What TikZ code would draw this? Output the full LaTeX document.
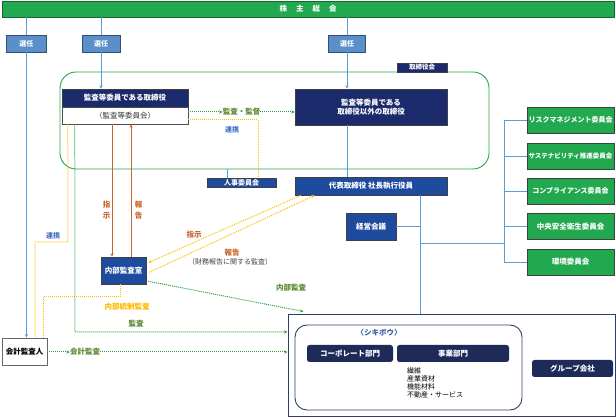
\documentclass[tikz,border=0pt]{standalone}
\usepackage{fontspec}
\setmainfont{Noto Sans CJK JP}
\usetikzlibrary{arrows.meta,calc}
\definecolor{kgreen}{HTML}{22A84E}
\definecolor{navy}{HTML}{1B2A6B}
\definecolor{mblue}{HTML}{1F4B9E}
\definecolor{lblue}{HTML}{5B8FC9}
\definecolor{lineblue}{HTML}{5B9BD5}
\definecolor{orng}{HTML}{C8652C}
\definecolor{yel}{HTML}{FFC000}
\definecolor{dgreen}{HTML}{22A33E}
\definecolor{olive}{HTML}{5E8B33}
\definecolor{txtblue}{HTML}{4472C4}
\definecolor{bnavy}{HTML}{1E2B58}
\definecolor{frame}{HTML}{2E3D6B}
\tikzset{
  bx/.style={inner sep=0pt, align=center, text=white, font=\bfseries\fontsize{7.5}{9}\selectfont},
  navybox/.style={bx, fill=navy, draw=black!75, line width=0.6pt},
  bluebox/.style={bx, fill=mblue, draw=black!75, line width=0.6pt},
  greenbox/.style={bx, fill=kgreen, draw=black!75, line width=0.8pt, font=\bfseries\fontsize{7}{8}\selectfont},
  seninbox/.style={bx, fill=lblue, draw=lblue!55!black, line width=0.6pt, font=\bfseries\fontsize{7}{8}\selectfont},
  botbox/.style={bx, fill=bnavy, rounded corners=2.5pt},
  bline/.style={draw=lineblue, line width=0.8pt},
  dotl/.style={line width=1pt, dash pattern=on 1pt off 1pt},
  gdot/.style={dotl, draw=dgreen},
  ydot/.style={dotl, draw=yel},
  oline/.style={draw=orng, line width=1pt},
  lab/.style={inner sep=0pt, font=\bfseries\fontsize{7.5}{9}\selectfont},
  >={Stealth[length=3.5pt,width=3.2pt]}
}
\begin{document}
\begin{tikzpicture}[x=1pt,y=-1pt]
\useasboundingbox (0,0) rectangle (616,419);

% top bar
\node[bx, fill=kgreen, draw=kgreen!60!black, line width=0.6pt, minimum width=612pt, minimum height=16pt] (gm) at (308,9) {株\hspace{9pt}主\hspace{9pt}総\hspace{9pt}会};

% senin boxes
\node[seninbox, minimum width=40pt, minimum height=17pt] (s1) at (26.5,43.5) {選任};
\node[seninbox, minimum width=38pt, minimum height=17pt] (s2) at (101,43.5) {選任};
\node[seninbox, minimum width=37pt, minimum height=17pt] (s3) at (347,43.5) {選任};

% board frame
\draw[draw=kgreen, line width=0.9pt, rounded corners=16pt] (60,72) rectangle (489,169);
\node[navybox, minimum width=50pt, minimum height=9pt, font=\bfseries\fontsize{6.5}{7}\selectfont] (tab) at (422,67.5) {取締役会};

\node[navybox, minimum width=126pt, minimum height=18pt] (kanH) at (125,98) {監査等委員である取締役};
\node[bx, fill=white, draw=black!70, line width=0.6pt, text=black!80, minimum width=126pt, minimum height=17pt, font=\fontsize{7.5}{9}\selectfont] (kanB) at (125,115.5) {（監査等委員会）};
\node[navybox, minimum width=152pt, minimum height=36pt] (oth) at (371,107) {監査等委員である\\取締役以外の取締役};

\node[bluebox, minimum width=69pt, minimum height=9pt, font=\bfseries\fontsize{7}{8}\selectfont] (jinji) at (241.5,182.5) {人事委員会};
\node[bluebox, minimum width=152pt, minimum height=18pt] (dai) at (371,186) {代表取締役 社長執行役員};
\node[bluebox, minimum width=50pt, minimum height=27pt] (keiei) at (371,226.5) {経営会議};
\node[bluebox, minimum width=45pt, minimum height=27pt] (naibu) at (123.5,270.5) {内部監査室};
\node[bx, fill=white, draw=black!60, line width=0.8pt, text=black, minimum width=45pt, minimum height=27pt] (kaikei) at (24.5,351.5) {会計監査人};

% committees
\node[greenbox, minimum width=87pt, minimum height=26pt] (c1) at (570.5,120) {リスクマネジメント委員会};
\node[greenbox, minimum width=87pt, minimum height=26pt, font=\bfseries\fontsize{6.5}{8}\selectfont] (c2) at (570.5,156) {サステナビリティ推進委員会};
\node[greenbox, minimum width=87pt, minimum height=26pt] (c3) at (570.5,191) {コンプライアンス委員会};
\node[greenbox, minimum width=87pt, minimum height=26pt, font=\bfseries\fontsize{7.5}{8}\selectfont] (c4) at (570.5,226.5) {中央安全衛生委員会};
\node[greenbox, minimum width=87pt, minimum height=26pt, font=\bfseries\fontsize{7.5}{8}\selectfont] (c5) at (570.5,262) {環境委員会};

% group frame
\node[draw=frame, line width=1pt, minimum width=327pt, minimum height=102pt, inner sep=0pt] (big) at (451.5,366) {};
\draw[draw=frame, line width=0.9pt, rounded corners=12pt] (295,325) rectangle (522,410);
\node[lab, text=txtblue!85!black] (shiki) at (379,333) {〈シキボウ〉};
\node[botbox, minimum width=86pt, minimum height=17pt] (corp) at (350,353.5) {コーポレート部門};
\node[botbox, minimum width=112pt, minimum height=17pt] (jigyo) at (453,353.5) {事業部門};
\node[inner sep=0pt, anchor=north west, align=left, font=\fontsize{7}{8}\selectfont] (list) at (407,367) {繊維\\産業資材\\機能材料\\不動産・サービス};
\node[botbox, minimum width=81pt, minimum height=17pt] (group) at (572.5,368.5) {グループ会社};

% blue lines
\draw[bline] (gm.south -| s1) -- (s1.north);
\draw[bline] (gm.south -| s2) -- (s2.north);
\draw[bline] (gm.south -| s3) -- (s3.north);
\draw[bline,->] (s1.south) -- (s1.south |- kaikei.north);
\draw[bline,->] (s2.south) -- (s2.south |- kanH.north);
\draw[bline,->] (s3.south) -- (s3.south |- oth.north);
\draw[bline] (oth.south -| s3) -- (dai.north -| s3);
\draw[bline] (227,169) -- (jinji.north -| 227,0);
\coordinate (v1) at (420,195);
\draw[bline] (dai.south -| v1) -- (big.north -| v1);
\draw[bline] (keiei.east) -- (keiei.east -| v1);
\coordinate (v2) at (504,243);
\draw[bline] (v1 |- v2) -- (v2);
\draw[bline] (c1.west -| v2) -- (c5.west -| v2);
\foreach \c in {c1,c2,c3,c4,c5} \draw[bline] (\c.west -| v2) -- (\c.west);

% 監査・監督
\node[lab, text=olive] (kk) at (241.5,112) {監査・監督};
\draw[gdot,->] (kanB.east |- kk) -- (kk.west);
\draw[gdot,->] (kk.east) -- (oth.west |- kk);

% 連携 (right)
\node[lab, text=txtblue, font=\bfseries\fontsize{7}{8}\selectfont] (rk1) at (232,130) {連携};
\draw[ydot] (kanB.east |- 0,120) -- (258,120) -- (jinji.north -| 258,0);

% orange
\draw[oline,->] (kanB.south -| 112,0) -- (naibu.north -| 112,0);
\draw[oline,->] (naibu.north -| 131,0) -- (kanB.south -| 131,0);
\node[lab, text=orng, align=center, font=\bfseries\fontsize{7.5}{11}\selectfont] (shiji1) at (106.5,210) {指\\示};
\node[lab, text=orng, align=center, font=\bfseries\fontsize{7.5}{11}\selectfont] (hok1) at (138.5,210) {報\\告};

% yellow diagonals
\draw[ydot,->] ($(dai.south west)+(6,0)$) -- ($(naibu.north east)+(2,6)$);
\draw[ydot,->] ($(naibu.south east)+(3,-12)$) -- ($(dai.south west)+(20,0)$);
\node[lab, text=orng] (shiji2) at (194,235) {指示};
\node[lab, text=orng] (hok2) at (232,253) {報告};
\node[lab, text=black!75, font=\fontsize{7}{8}\selectfont] (zaimu) at (230,262) {（財務報告に関する監査）};

% 内部監査
\draw[gdot,->] ($(naibu.south east)+(2,-3)$) -- ($(big.north west)+(16,-3)$);
\node[lab, text=olive] (nk) at (291,288) {内部監査};

% 内部統制監査
\draw[ydot] (naibu.south -| 120,0) -- (120,297) -- (43,297) -- (kaikei.north -| 43,0);
\node[lab, text=yel!90!orange] (nt) at (127,307) {内部統制監査};

% left 連携
\draw[ydot] ($(kanB.south west)+(6,0)$) -- (68,242) -- (35,242) -- (kaikei.north -| 35,0);
\node[lab, text=txtblue, font=\bfseries\fontsize{7}{8}\selectfont] (rk2) at (53,236) {連携};

% 監査
\draw[gdot,->] ($(kanB.south west)+(13,0)$) -- (75,332) -- (big.west |- 0,332);
\node[lab, text=olive] (ks) at (136,324) {監査};

% 会計監査
\node[lab, text=olive] (kks) at (85,352) {会計監査};
\draw[gdot,->] (kaikei.east |- kks) -- (kks.west);
\draw[gdot,->] (kks.east) -- (big.west |- kks);
\end{tikzpicture}
\end{document}
